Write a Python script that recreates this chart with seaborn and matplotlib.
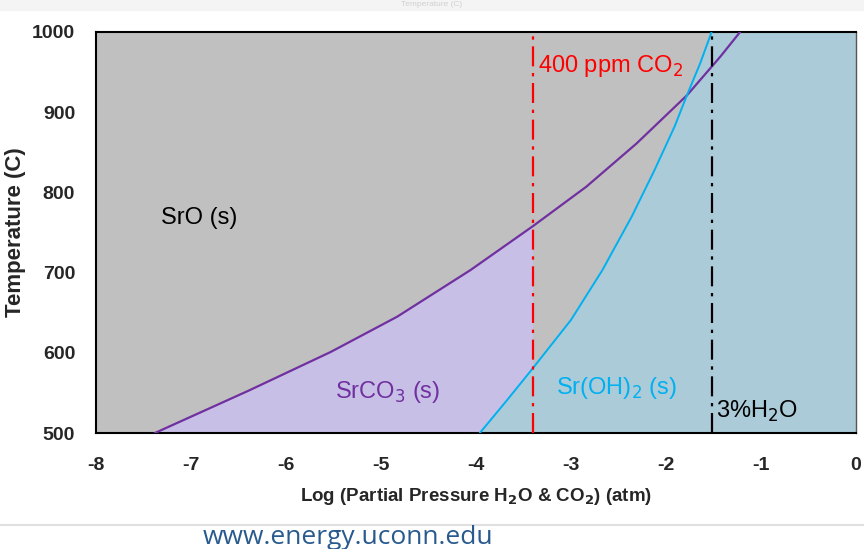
import numpy as np
import pandas as pd
import matplotlib.pyplot as plt
import seaborn as sns

# phase boundaries (temperature in C, log partial pressure in atm)
srco3_T = [500, 553, 601, 645, 703, 758, 807, 861, 921, 969, 1000]
srco3_logp = [-7.38, -6.39, -5.53, -4.83, -4.06, -3.40, -2.84, -2.31, -1.78, -1.43, -1.22]

sroh_T = [500, 540, 581, 641, 703, 770, 828, 882, 921, 961, 1000]
sroh_logp = [-3.96, -3.68, -3.40, -3.00, -2.67, -2.36, -2.12, -1.91, -1.78, -1.64, -1.52]

co2_400ppm = -3.40
h2o_3pct = -1.52

x_ticks = [-8, -7, -6, -5, -4, -3, -2, -1, 0]
y_ticks = [500, 600, 700, 800, 900, 1000]

purple = '#7030a0'
cyan = '#00b0f0'

sns.set_theme(style='white')
plt.rcParams['font.family'] = ['Liberation Sans', 'DejaVu Sans']

df_co3 = pd.DataFrame({'logp': srco3_logp, 'T': srco3_T})
df_oh = pd.DataFrame({'logp': sroh_logp, 'T': sroh_T})

fig = plt.figure(figsize=(8.64, 5.49), dpi=100)
ax = fig.add_axes([96/864, 1-433/549, 760/864, 401/549])
ax.set_facecolor('#c0c0c0')

# SrCO3 region: under the carbonate line, left of 400 ppm and of the hydroxide line
left = df_co3[df_co3['logp'] <= co2_400ppm]
oh_left = df_oh[df_oh['logp'] <= co2_400ppm].iloc[::-1]
px = list(left['logp']) + list(oh_left['logp'])
py = list(left['T']) + list(oh_left['T'])
ax.fill(px, py, color='#c8bfe6', lw=0, zorder=1)

# Sr(OH)2 region: right of the hydroxide line
ax.fill(sroh_logp + [0, 0], sroh_T + [1000, 500], color='#abcbd8', lw=0, zorder=1)

sns.lineplot(data=df_co3, x='logp', y='T', sort=False, color=purple, lw=1.6, ax=ax, zorder=3)
sns.lineplot(data=df_oh, x='logp', y='T', sort=False, color=cyan, lw=1.4, ax=ax, zorder=3)

ax.plot([co2_400ppm, co2_400ppm], [500, 1000], color='red', lw=1.6,
        dashes=(9, 3, 1.5, 3), zorder=4)
ax.plot([h2o_3pct, h2o_3pct], [500, 1000], color='black', lw=1.6,
        dashes=(9, 3, 1.5, 3), zorder=4)

ax.text(-6.91, 768, 'SrO (s)', fontsize=17, color='black', ha='center', va='center')
ax.text(-4.93, 551, 'SrCO$_3$ (s)', fontsize=17, color=purple, ha='center', va='center')
ax.text(-2.52, 556, 'Sr(OH)$_2$ (s)', fontsize=17, color=cyan, ha='center', va='center')
ax.text(-1.47, 527, '3%H$_2$O', fontsize=17, color='black', ha='left', va='center')
ax.text(-3.35, 958, '400 ppm CO$_2$', fontsize=17, color='red', ha='left', va='center')

ax.set_xlim(-8, 0)
ax.set_ylim(500, 1000)
ax.set_xticks(x_ticks)
ax.set_yticks(y_ticks)
ax.set_xticklabels([str(v) for v in x_ticks], fontsize=14, fontweight='bold')
ax.set_yticklabels([str(v) for v in y_ticks], fontsize=14, fontweight='bold')
ax.tick_params(axis='x', pad=17, length=0)
ax.tick_params(axis='y', pad=15, length=0)
ax.set_xlabel('Log (Partial Pressure H$_\\mathbf{2}$O & CO$_\\mathbf{2}$) (atm)',
              fontsize=13.5, fontweight='bold', labelpad=9)
ax.set_ylabel('Temperature (C)', fontsize=16, fontweight='bold', labelpad=4)
for s in ax.spines.values():
    s.set_visible(True)
    s.set_color('black')
    s.set_linewidth(1.5)
ax.spines['right'].set_color('#555555')
ax.spines['right'].set_linewidth(1.0)

# slide decoration around the chart
fig.patches.append(plt.Rectangle((0, 1-10/549), 1, 10/549, transform=fig.transFigure,
                                 color='#f4f4f4', zorder=0))
fig.text(0.5, 1-1/549, 'Temperature (C)', color='#d0d0d0', fontsize=6,
         ha='center', va='top')
fig.lines.append(plt.Line2D([0, 1], [1-525/549, 1-525/549], transform=fig.transFigure,
                            color='#e0e0e0', lw=1.5))
fig.text(0.403, 1-538/549, 'www.energy.uconn.edu', color='#285a8e', fontsize=19,
         family='Open Sans', ha='center', va='center')

fig.savefig('out.png', dpi=100)
